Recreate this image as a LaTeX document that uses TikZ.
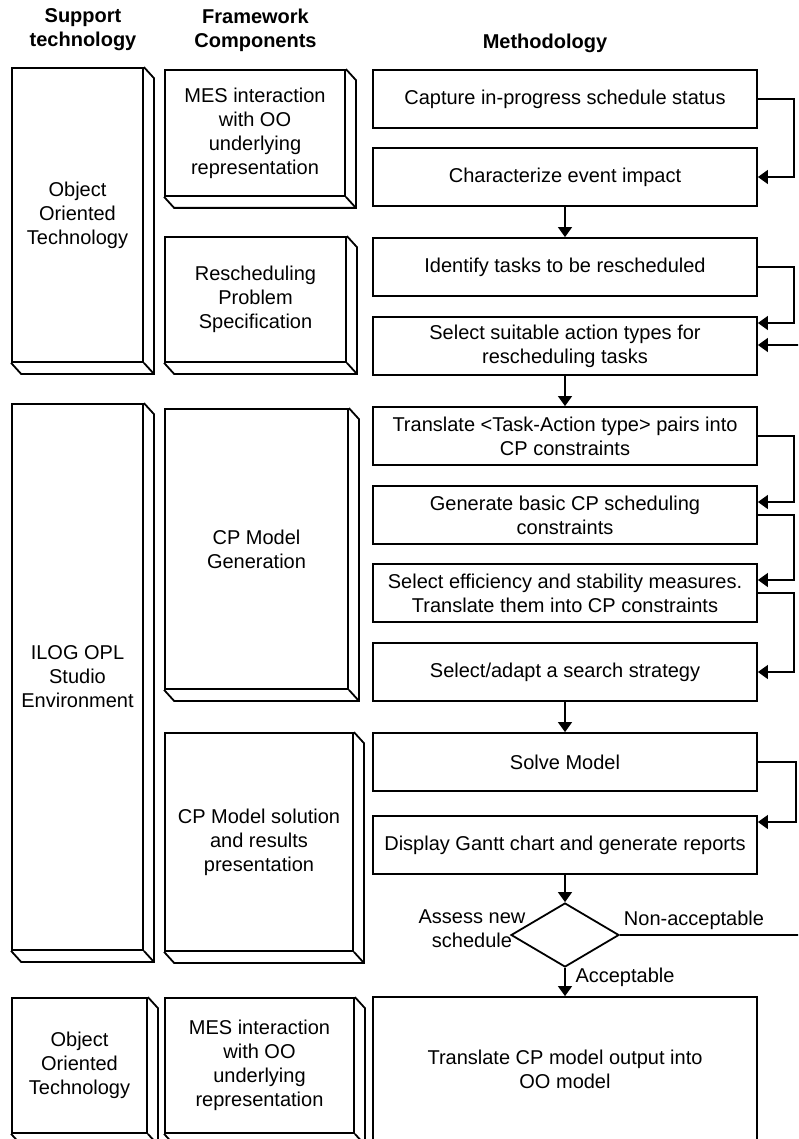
\documentclass[tikz,border=0pt]{standalone}
\usepackage{fontspec}
\setmainfont{Liberation Sans}
\usetikzlibrary{arrows.meta,shapes.geometric,calc}
% side and bottom faces of a raised slab
\newcommand\extrudeslab[1]{%
  \draw[boxline] (#1.north east) -- ++(10,11) -- ($(#1.south east)+(10,11)$)
    -- ($(#1.south west)+(10,11)$) -- (#1.south west);
  \draw[boxline] (#1.south east) -- ++(10,11);}
\begin{document}
\begin{tikzpicture}[x=1pt,y=-1pt,
  every node/.style={font=\fontsize{20}{24}\selectfont},
  boxline/.style={line width=1.8pt, line join=miter},
  proc/.style={draw, boxline, align=center, inner sep=0pt, minimum width=384, minimum height=58},
  slab/.style={draw, boxline, align=center, inner sep=0pt},
  flow/.style={line width=1.3pt, -{Triangle[length=10pt,width=14pt]}},
  head/.style={align=center, font=\fontsize{20}{24}\selectfont\bfseries},
  ]
\clip (0,0) rectangle (798,1139);
\fill[white] (0,0) rectangle (798,1139);

% column headings
\node[head] (h1) at (83,30) {Support\\technology};
\node[head] (h2) at (255.5,30) {Framework\\Components};
\node[head] (h3) at (545,43) {Methodology};

% support technology
\node[slab, minimum width=131, minimum height=294] (l1) at (77.5,215) {Object\\Oriented\\Technology};
\node[slab, minimum width=131, minimum height=546] (l2) at (77.5,677) {ILOG OPL\\Studio\\Environment};
\node[slab, minimum width=135, minimum height=135] (l3) at (79.5,1065.5) {Object\\Oriented\\Technology};
\extrudeslab{l1}\extrudeslab{l2}\extrudeslab{l3}

% framework components
\node[slab, minimum width=180, minimum height=126] (m1) at (255,133) {MES interaction\\with OO\\underlying\\representation};
\node[slab, minimum width=181, minimum height=125] (m2) at (255.5,299.5) {Rescheduling\\Problem\\Specification};
\node[slab, minimum width=183, minimum height=280] (m3) at (256.5,549) {CP Model\\Generation};
\node[slab, minimum width=188, minimum height=218] (m4) at (259,842) {CP Model solution\\and results\\presentation};
\node[slab, minimum width=189, minimum height=135] (m5) at (259.5,1065.5) {MES interaction\\with OO\\underlying\\representation};
\extrudeslab{m1}\extrudeslab{m2}\extrudeslab{m3}\extrudeslab{m4}\extrudeslab{m5}

% methodology steps
\node[proc] (r1) at (565,99) {Capture in-progress schedule status};
\node[proc] (r2) at (565,177) {Characterize event impact};
\node[proc] (r3) at (565,267) {Identify tasks to be rescheduled};
\node[proc] (r4) at (565,346) {Select suitable action types for\\rescheduling tasks};
\node[proc] (r5) at (565,436) {Translate <Task-Action type> pairs into\\CP constraints};
\node[proc] (r6) at (565,515) {Generate basic CP scheduling\\constraints};
\node[proc] (r7) at (565,593) {Select efficiency and stability measures.\\Translate them into CP constraints};
\node[proc] (r8) at (565,672) {Select/adapt a search strategy};
\node[proc] (r9) at (565,762) {Solve Model};
\node[proc] (r10) at (565,845) {Display Gantt chart and generate reports};
\node[draw, boxline, diamond, aspect=1.7, minimum width=108, minimum height=64, inner sep=0pt] (dec) at (565,935) {};
\node[proc, minimum height=145] (r11) at (565,1069.5) {Translate CP model output into\\OO model};

% decision labels
\node[align=center] (asslbl) at (472,929) {Assess new\\schedule};
\node (nalbl) at (694,920) {Non-acceptable};
\node (acclbl) at (625,977) {Acceptable};

% flow
\draw[flow] (r1.east) -- ++(36,0) |- (r2.east);
\draw[flow] (r2.south) -- (r3.north);
\draw[flow] (r3.east) -- ++(36,0) |- ([yshift=23pt]r4.east);
\draw[flow] (r4.south) -- (r5.north);
\draw[flow] (r5.east) -- ++(36,0) |- ([yshift=13pt]r6.east);
\draw[flow] (r6.east) -- ++(36,0) |- ([yshift=13pt]r7.east);
\draw[flow] (r7.east) -- ++(36,0) |- (r8.east);
\draw[flow] (r8.south) -- (r9.north);
\draw[flow] (r9.east) -- ++(38,0) |- ([yshift=23pt]r10.east);
\draw[flow] (r10.south) -- (dec.north);
\draw[flow] (dec.east) -- (812,935) |- ([yshift=1pt]r4.east);
\draw[flow] (dec.south) -- (r11.north);
\end{tikzpicture}
\end{document}
